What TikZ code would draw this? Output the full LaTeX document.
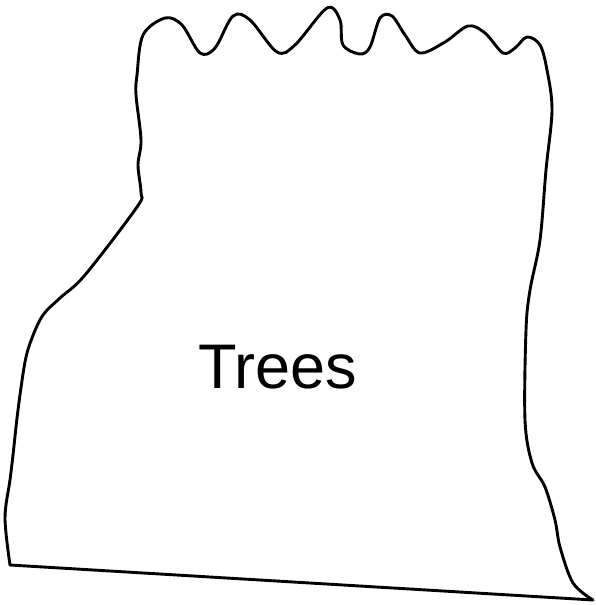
\documentclass[tikz,border=0pt]{standalone}
\usepackage{fontspec}
\setmainfont{Liberation Sans}
\begin{document}
\begin{tikzpicture}[x=1pt,y=-1pt,
  outline/.style={draw=black,line width=2.9pt,line join=round,line cap=round}]
\useasboundingbox (0,0) rectangle (595,605);
\draw[outline] plot[smooth,tension=0.55] coordinates {
(10,565) (5,518) (10,480) (13,455) (18,410) (25,362) (32,338) (43,315) (60,298) (85,275) (137,207) (141,193) (138,165) (141,140) (136,95) (137,75) (143,35) (165,18) (182,25) (200,53) (215,48) (233,16) (250,20) (277,52) (295,45) (327,8) (340,20) (343,45) (360,54) (370,47) (380,18) (392,16) (405,35) (420,53) (445,42) (468,26) (485,33) (503,53) (515,48) (527,37) (540,45) (547,70) (552,110) (546,170) (540,240) (530,290) (526,330) (525,420) (532,463) (545,487) (555,520) (560,547) (573,583) (593,600)} -- cycle;
\node[inner sep=0pt] (label) at (278,367.5) {\fontsize{63}{66}\selectfont Trees};
\end{tikzpicture}
\end{document}
